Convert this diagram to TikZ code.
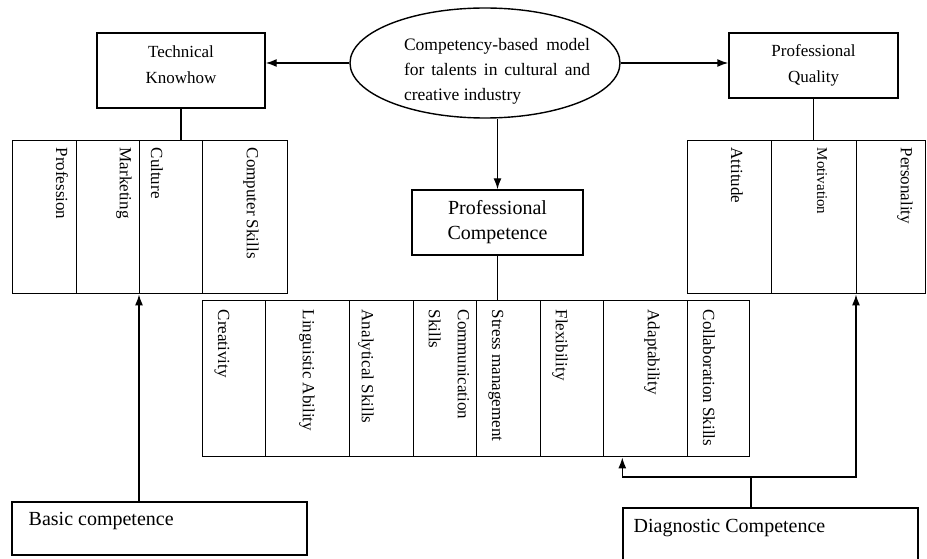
\documentclass[tikz,border=0pt]{standalone}
\usepackage{fontspec}
\setmainfont{Liberation Serif}
\usetikzlibrary{shapes.geometric, arrows.meta, positioning}

\begin{document}
\begin{tikzpicture}[x=1pt, y=-1pt, >={Latex[length=11pt,width=8pt]},
    line width=1.4pt,
    box/.style={draw, align=center, inner sep=0pt, font=\fontsize{17}{26}\selectfont},
    cell/.style={draw, inner sep=0pt, anchor=north west},
    lbl/.style={rotate=-90, anchor=west, inner sep=0pt, align=left,
        font=\fontsize{17}{29}\selectfont},
    big/.style={font=\fontsize{20}{25}\selectfont}]
  \useasboundingbox (0,0) rectangle (927,559);

  % central model and the three areas
  \node[draw, ellipse, minimum width=270, minimum height=110, inner sep=0pt] (model) at (485,63) {};
  \node[align=justify, text width=186pt, inner sep=0pt,
        font=\fontsize{17.5}{25}\selectfont] (model-t) at (497,71)
        {Competency-based model for talents in cultural and creative industry};
  \node[draw, minimum width=168, minimum height=75] (tk) at (181,70.5) {};
  \node[box, draw=none] (tk-t) at (181,65) {Technical\\Knowhow};
  \node[box, minimum width=169, minimum height=65] (pq) at (813.5,65.5) {Professional\\Quality};
  \node[box, big, minimum width=171, minimum height=65] (pc) at (497.5,222.5) {Professional\\Competence};

  % technical knowhow cells
  \foreach \l/\r/\x/\t [count=\i] in {12/76/62/Profession, 76/139/124/Marketing,
      139/202/157/Culture, 202/287/251/Computer Skills} {
    \node[cell, minimum width=\r-\l, minimum height=153] (kn-\i) at (\l,140) {};
    \node[lbl] (kn-t\i) at (\x,147) {\t};
  }

  % professional quality cells
  \foreach \l/\r/\x/\t [count=\i] in {687/771/737/Attitude,
      771/856/822/{\fontsize{15}{18}\selectfont Motivation}, 856/925/905/Personality} {
    \node[cell, minimum width=\r-\l, minimum height=153] (ql-\i) at (\l,140) {};
    \node[lbl] (ql-t\i) at (\x,147) {\t};
  }

  % professional competence cells
  \foreach \l/\r/\x/\t [count=\i] in {202/265/222/Creativity, 265/349/307/Linguistic Ability,
      349/413/366/Analytical Skills, 413/476/449/{Communication\\Skills},
      476/540/496/Stress management, 540/603/560/Flexibility,
      603/687/652/Adaptability, 687/749/709/Collaboration Skills} {
    \node[cell, minimum width=\r-\l, minimum height=156] (cp-\i) at (\l,300) {};
    \node[lbl] (cp-t\i) at (\x,309) {\t};
  }

  % competences at the bottom
  \node[draw, minimum width=295, minimum height=53] (basic) at (159.5,528.5) {};
  \node[big, anchor=west, inner sep=0pt] (basic-t) at (28,521) {Basic competence};
  \node[draw, minimum width=295, minimum height=56] (diag) at (770.5,536) {};
  \node[big, anchor=west, inner sep=0pt] (diag-t) at (633,528) {Diagnostic Competence};

  \draw[->] (model.west) -- (model.west -| tk.east);
  \draw[->] (model.east) -- (model.east -| pq.west);
  \draw[->] (pc.north |- model.south) -- (pc.north);
  \draw (tk.south) -- (tk.south |- kn-1.north);
  \draw (pq.south) -- (pq.south |- ql-1.north);
  \draw (pc.south) -- (pc.south |- cp-1.north);
  \draw[->] (kn-3.west |- basic.north) -- (kn-3.south west);
  \coordinate (split) at (751,477);
  \draw (split |- diag.north) -- (split);
  \draw[->] (split) -| (diag.west |- cp-1.south);
  \draw[->] (split) -| (ql-3.south west);
\end{tikzpicture}
\end{document}
